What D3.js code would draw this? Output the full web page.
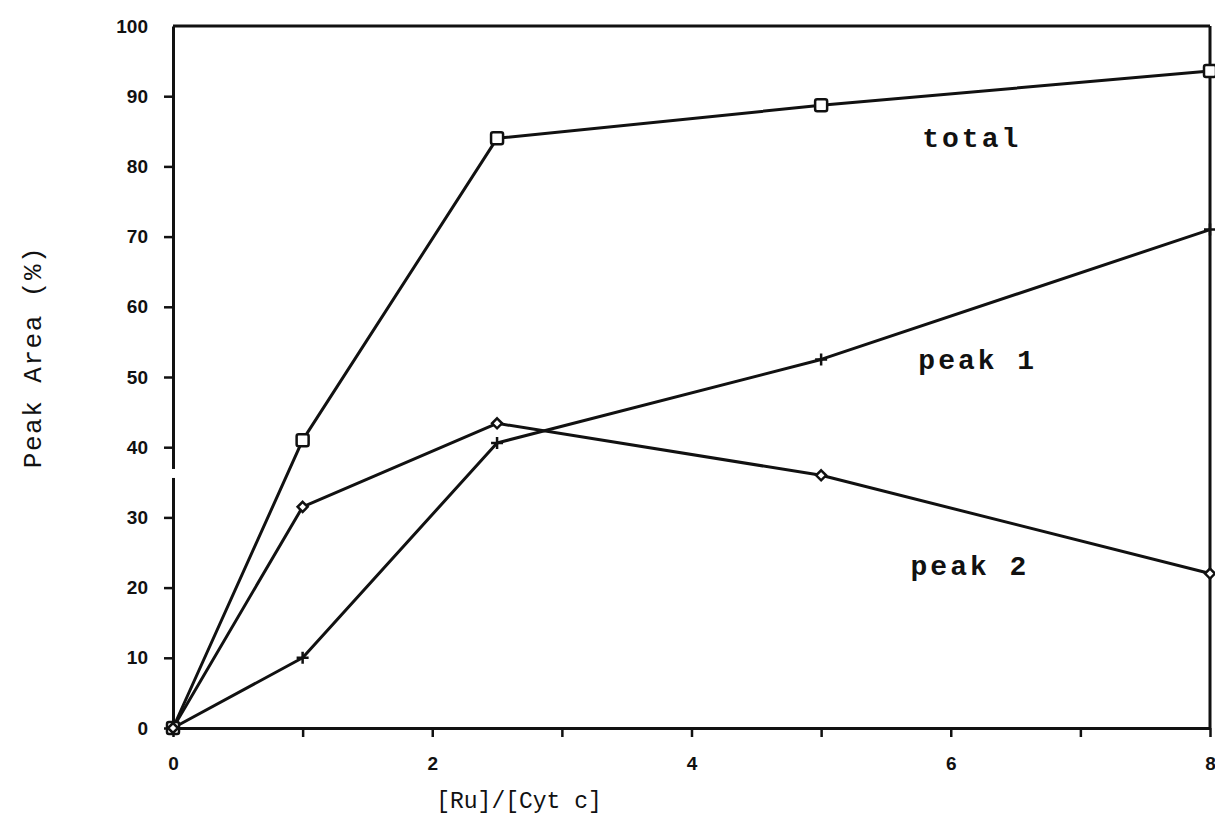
<!DOCTYPE html>
<html>
<head>
<meta charset="utf-8">
<script src="https://cdn.jsdelivr.net/npm/d3@7"></script>
<style>
  html, body { margin: 0; padding: 0; background: #fff; }
  svg { display: block; }
</style>
</head>
<body>
<svg id="chart" width="1215" height="831"></svg>
<script>
// Ratio of ruthenium to cytochrome c
const ratios = [0, 1, 2.5, 5, 8];
// Peak areas (%) for each series
const totalArea = [0, 41, 84, 88.7, 93.6];
const peak1Area = [0, 10, 40.6, 52.5, 71];
const peak2Area = [0, 31.5, 43.4, 36, 22];
const seriesNames = ["total", "peak 1", "peak 2"];
// label anchors in data units (start x, baseline y)
const labelX = [5.78, 5.75, 5.69];
const labelY = [82.8, 51.2, 21.8];
const xTicks = [0, 1, 2, 3, 4, 5, 6, 7, 8];
const xTickLabels = ["0", "", "2", "", "4", "", "6", "", "8"];
const yTicks = [0, 10, 20, 30, 40, 50, 60, 70, 80, 90, 100];

const svg = d3.select("#chart");
const plotLeft = 173, plotRight = 1210, plotTop = 26, plotBottom = 728;

const x = d3.scaleLinear().domain([0, 8]).range([plotLeft, plotRight]);
const y = d3.scaleLinear().domain([0, 100]).range([plotBottom, plotTop]);

const ink = "#111";
const mono = "'Liberation Mono', 'DejaVu Sans Mono', monospace";
const tickFont = "'Liberation Sans', Arial, sans-serif";

// Axes
const xAxis = d3.axisBottom(x).tickValues(xTicks)
  .tickFormat((d, i) => xTickLabels[i]).tickSize(9).tickPadding(20).tickSizeOuter(0);
const yAxis = d3.axisLeft(y).tickValues(yTicks)
  .tickFormat(d3.format("d")).tickSize(9).tickPadding(16).tickSizeOuter(0);

const gx = svg.append("g").attr("transform", `translate(0,${plotBottom})`).call(xAxis);
const gy = svg.append("g").attr("transform", `translate(${plotLeft},0)`).call(yAxis);

[gx, gy].forEach(g => {
  g.select(".domain").attr("stroke", ink).attr("stroke-width", 3);
  g.selectAll(".tick line").attr("stroke", ink).attr("stroke-width", 2.5);
  g.selectAll(".tick text")
    .attr("fill", ink)
    .style("font-family", tickFont)
    .style("font-weight", "bold")
    .style("font-size", "19px");
});
gy.selectAll(".tick").filter(d => d === 100).select("line").remove();

// small break in the y axis line between 30 and 40
svg.append("rect")
  .attr("x", plotLeft - 3).attr("y", y(36.9)).attr("width", 6).attr("height", 9)
  .attr("fill", "#fff");

// Frame: top and right edges
svg.append("line").attr("x1", plotLeft).attr("x2", plotRight).attr("y1", y(100)).attr("y2", y(100))
  .attr("stroke", ink).attr("stroke-width", 3);
svg.append("line").attr("x1", plotRight).attr("x2", plotRight).attr("y1", y(100)).attr("y2", y(0))
  .attr("stroke", ink).attr("stroke-width", 3);

// Series lines
const line = d3.line().x(d => x(d[0])).y(d => y(d[1]));
const seriesData = [totalArea, peak1Area, peak2Area].map(vals => ratios.map((r, i) => [r, vals[i]]));

seriesData.forEach(pts => {
  svg.append("path").datum(pts).attr("d", line)
    .attr("fill", "none").attr("stroke", ink).attr("stroke-width", 3)
    .attr("stroke-linejoin", "round");
});

// Markers: squares for total, plus for peak 1, diamonds for peak 2
svg.append("g").selectAll("rect").data(seriesData[0]).join("rect")
  .attr("x", d => x(d[0]) - 6).attr("y", d => y(d[1]) - 6)
  .attr("width", 12).attr("height", 12).attr("rx", 2)
  .attr("fill", "#fff").attr("stroke", ink).attr("stroke-width", 2.5);

svg.append("g").selectAll("path").data(seriesData[1]).join("path")
  .attr("d", d => `M${x(d[0]) - 6},${y(d[1])}h12M${x(d[0])},${y(d[1]) - 6}v12`)
  .attr("stroke", ink).attr("stroke-width", 2.5);

svg.append("g").selectAll("path").data(seriesData[2]).join("path")
  .attr("d", d => `M${x(d[0])},${y(d[1]) - 5}l5,5l-5,5l-5,-5z`)
  .attr("fill", "#fff").attr("stroke", ink).attr("stroke-width", 2.5);

// Series labels
seriesNames.forEach((name, i) => {
  svg.append("text")
    .attr("x", x(labelX[i]))
    .attr("y", y(labelY[i]))
    .attr("text-anchor", "start")
    .attr("fill", ink)
    .style("font-family", mono)
    .style("font-weight", "bold")
    .style("font-size", "28px")
    .style("letter-spacing", "3px")
    .text(name);
});

// Axis titles
svg.append("text")
  .attr("x", 519).attr("y", 808)
  .attr("text-anchor", "middle").attr("fill", ink)
  .style("font-family", mono).style("font-size", "23px")
  .text("[Ru]/[Cyt c]");

svg.append("text")
  .attr("transform", `translate(41,357) rotate(-90)`)
  .attr("text-anchor", "middle").attr("fill", ink)
  .style("font-family", mono).style("font-size", "26px")
  .style("letter-spacing", "1.5px")
  .text("Peak Area (%)");
</script>
</body>
</html>
